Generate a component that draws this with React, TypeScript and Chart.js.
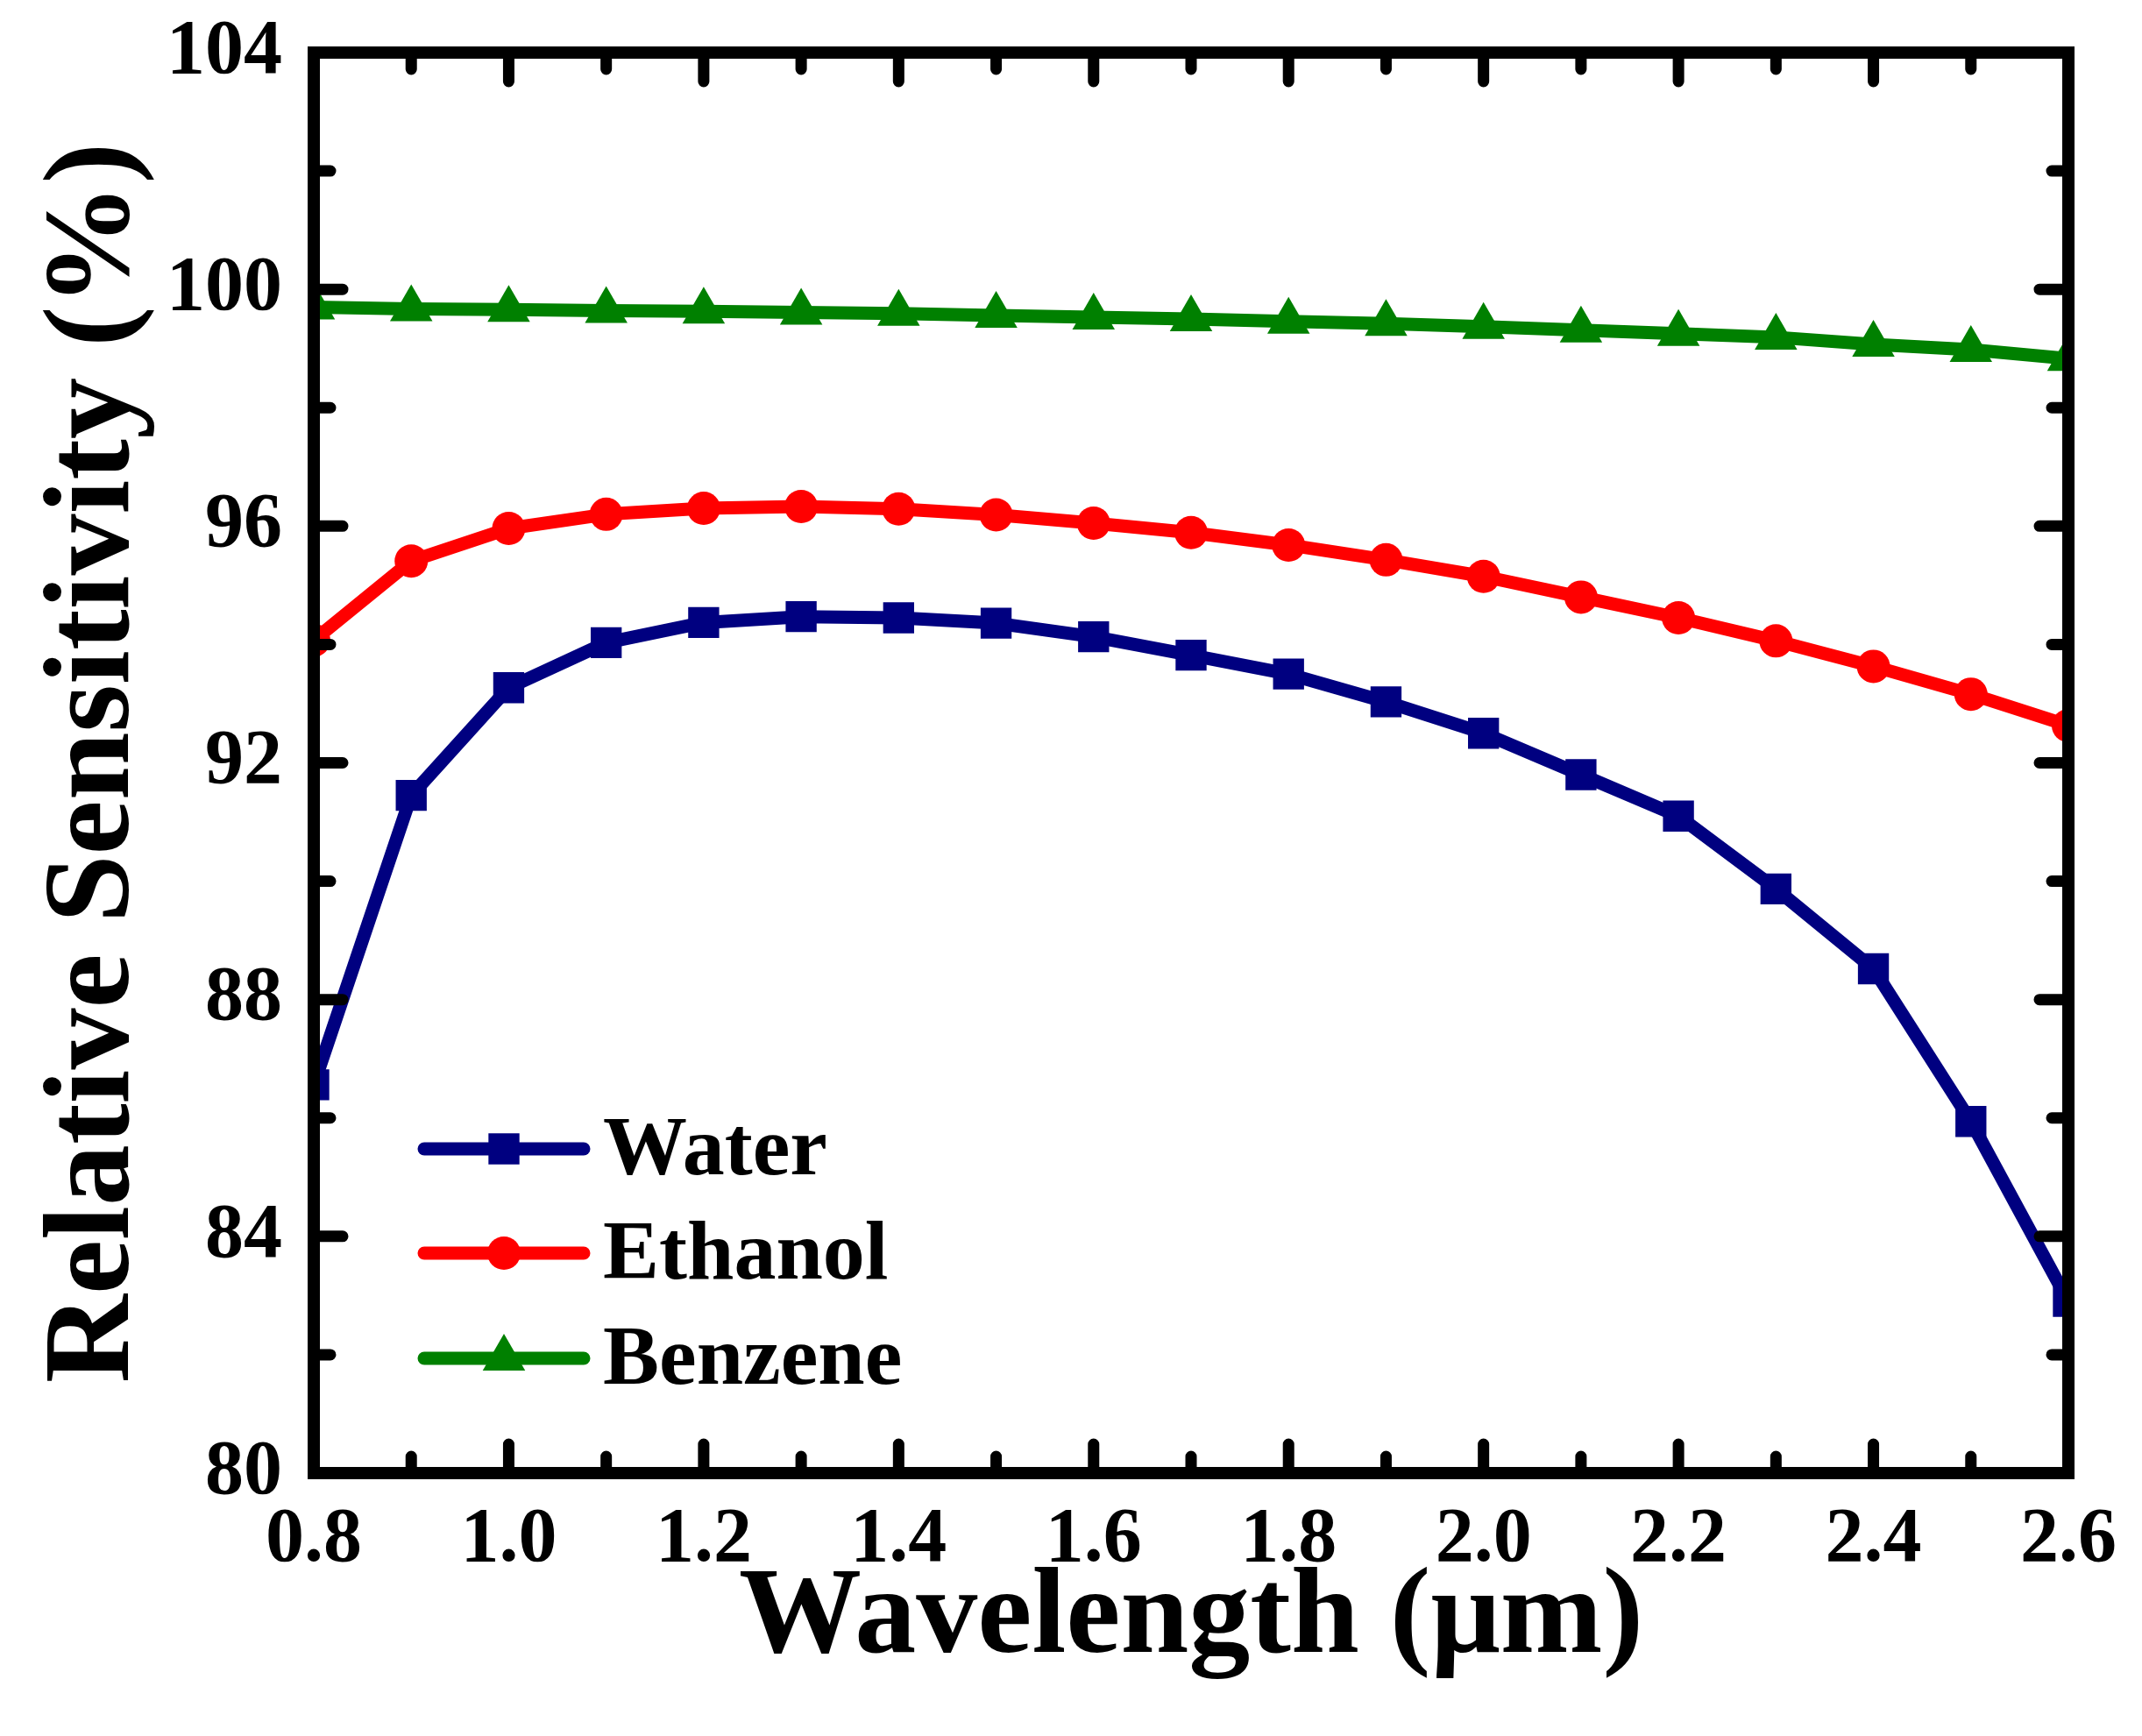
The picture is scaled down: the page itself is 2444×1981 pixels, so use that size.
import { useEffect, useRef } from "react"
import { Chart, registerables } from "chart.js"
import type { Plugin } from "chart.js"
import { drawPoint } from "chart.js/helpers"

Chart.register(...registerables)

// wavelength in µm
const wavelengths = [0.8, 0.9, 1.0, 1.1, 1.2, 1.3, 1.4, 1.5, 1.6, 1.7, 1.8, 1.9, 2.0, 2.1, 2.2, 2.3, 2.4, 2.5, 2.6]

// relative sensitivity in %
const water = [86.56, 91.45, 93.27, 94.03, 94.37, 94.47, 94.45, 94.36, 94.13, 93.82, 93.5, 93.03, 92.5, 91.8, 91.1, 89.87, 88.52, 85.94, 82.9]
const ethanol = [94.07, 95.41, 95.96, 96.2, 96.3, 96.33, 96.29, 96.19, 96.05, 95.89, 95.68, 95.43, 95.15, 94.8, 94.45, 94.06, 93.63, 93.16, 92.63]
const benzene = [99.7, 99.67, 99.66, 99.64, 99.63, 99.61, 99.59, 99.56, 99.53, 99.5, 99.46, 99.42, 99.37, 99.31, 99.25, 99.19, 99.07, 98.98, 98.83]

const seriesNames = ["Water", "Ethanol", "Benzene"]

const xTicks = [0.8, 1.0, 1.2, 1.4, 1.6, 1.8, 2.0, 2.2, 2.4, 2.6]
const xMinorTicks = [0.9, 1.1, 1.3, 1.5, 1.7, 1.9, 2.1, 2.3, 2.5]
const yTicks = [80, 84, 88, 92, 96, 100, 104]
const yMinorTicks = [82, 86, 90, 94, 98, 102]

const W = 2444
const H = 1981
const SERIF = "'Liberation Serif', 'Times New Roman', serif"

const toPoints = (ys: number[]) => wavelengths.map((x, i) => ({ x, y: ys[i] }))

// frame, inward ticks on all four sides, and the legend inside the plot
const framePlugin: Plugin<"line"> = {
	id: "frame",
	afterDatasetsDraw(chart) {
		const { ctx, chartArea: a } = chart
		const xs = chart.scales.x
		const ys = chart.scales.y
		ctx.save()
		ctx.strokeStyle = "#000"
		ctx.lineWidth = 13
		ctx.lineCap = "round"

		const xTick = (v: number, len: number) => {
			const px = xs.getPixelForValue(v)
			ctx.beginPath()
			ctx.moveTo(px, a.bottom)
			ctx.lineTo(px, a.bottom - len)
			ctx.moveTo(px, a.top)
			ctx.lineTo(px, a.top + len)
			ctx.stroke()
		}
		const yTick = (v: number, len: number) => {
			const py = ys.getPixelForValue(v)
			ctx.beginPath()
			ctx.moveTo(a.left, py)
			ctx.lineTo(a.left + len, py)
			ctx.moveTo(a.right, py)
			ctx.lineTo(a.right - len, py)
			ctx.stroke()
		}
		xTicks.forEach((v) => xTick(v, 33))
		xMinorTicks.forEach((v) => xTick(v, 19))
		yTicks.forEach((v) => yTick(v, 33))
		yMinorTicks.forEach((v) => yTick(v, 19))

		ctx.lineCap = "butt"
		ctx.lineJoin = "miter"
		ctx.lineWidth = 14
		ctx.strokeRect(a.left, a.top, a.width, a.height)

		// legend
		const lx0 = a.left + 126
		const lx1 = a.left + 308
		const rowY = [1311, 1430, 1550]
		chart.data.datasets.forEach((ds: any, i) => {
			const y = rowY[i]
			ctx.strokeStyle = ds.borderColor
			ctx.fillStyle = ds.borderColor
			ctx.lineWidth = 15
			ctx.lineCap = "round"
			ctx.beginPath()
			ctx.moveTo(lx0, y)
			ctx.lineTo(lx1, y)
			ctx.stroke()
			drawPoint(
				ctx,
				{ pointStyle: ds.pointStyle, radius: ds.pointRadius, rotation: 0, borderWidth: 0 } as any,
				(lx0 + lx1) / 2,
				y
			)
			ctx.fillStyle = "#000"
			ctx.font = `bold 96px ${SERIF}`
			ctx.textBaseline = "middle"
			ctx.textAlign = "left"
			ctx.fillText(ds.label, a.left + 330, y + 4)
		})
		ctx.restore()
	},
}

export default function App() {
	const canvasRef = useRef<HTMLCanvasElement>(null)

	useEffect(() => {
		if (!canvasRef.current) return
		const ctx = canvasRef.current.getContext("2d")
		if (!ctx) return

		const lineSet = (label: string, ys: number[], color: string, pointStyle: string, r: number) => ({
			label,
			data: toPoints(ys),
			borderColor: color,
			backgroundColor: color,
			pointBackgroundColor: color,
			borderWidth: 15,
			borderJoinStyle: "round" as const,
			pointStyle,
			pointRadius: r,
			pointHoverRadius: r,
			pointBorderWidth: 0,
			tension: 0,
			clip: 0,
		})

		const chart = new Chart(ctx, {
			type: "line",
			data: {
				datasets: [
					lineSet(seriesNames[0], water, "#000080", "rect", 25),
					lineSet(seriesNames[1], ethanol, "#ff0000", "circle", 19),
					lineSet(seriesNames[2], benzene, "#008000", "triangle", 28),
				] as any,
			},
			options: {
				animation: false,
				responsive: false,
				devicePixelRatio: 1,
				layout: { padding: { top: 60, right: 84, left: 0, bottom: 0 } },
				plugins: {
					legend: { display: false },
					tooltip: { enabled: false },
				},
				scales: {
					x: {
						type: "linear",
						min: 0.8,
						max: 2.6,
						grid: { display: false, drawTicks: false },
						border: { display: false },
						afterBuildTicks: (s: any) => {
							s.ticks = xTicks.map((value) => ({ value }))
						},
						afterFit: (s: any) => {
							s.height = 300
							s.paddingLeft = 0
							s.paddingRight = 0
						},
						ticks: {
							padding: 24,
							maxRotation: 0,
							autoSkip: false,
							color: "#000",
							font: { family: SERIF, size: 88, weight: "bold" },
							callback: (v: any) => Number(v).toFixed(1),
						},
						title: {
							display: true,
							text: "Wavelength (μm)",
							color: "#000",
							padding: { top: 0, bottom: 48 },
							font: { family: SERIF, size: 140, weight: "bold" },
						},
					},
					y: {
						type: "linear",
						min: 80,
						max: 104,
						grid: { display: false, drawTicks: false },
						border: { display: false },
						afterBuildTicks: (s: any) => {
							s.ticks = yTicks.map((value) => ({ value }))
						},
						afterFit: (s: any) => {
							s.width = 358
							s.paddingTop = 0
							s.paddingBottom = 0
						},
						ticks: {
							padding: 36,
							autoSkip: false,
							color: "#000",
							font: { family: SERIF, size: 88, weight: "bold" },
							callback: (v: any) => String(v),
						},
						title: {
							display: true,
							text: "Relative Sensitivity (%)",
							color: "#000",
							padding: { top: 26, bottom: 0 },
							font: { family: SERIF, size: 140, weight: "bold" },
						},
					},
				},
			},
			plugins: [framePlugin],
		})

		return () => {
			chart.destroy()
		}
	}, [])

	return (
		<div style={{ position: "absolute", left: 0, top: 0, width: W, height: H, background: "#fff" }}>
			<canvas ref={canvasRef} width={W} height={H} style={{ display: "block" }} />
		</div>
	)
}
